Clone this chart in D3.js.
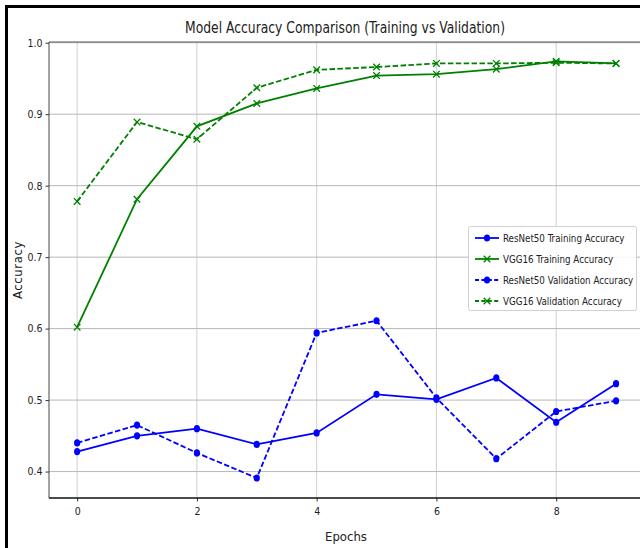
<!DOCTYPE html>
<html>
<head>
<meta charset="utf-8">
<script src="https://cdn.jsdelivr.net/npm/d3@7"></script>
<style>
    body {margin:0; background:#fff;}
    svg text {font-family:"DejaVu Sans Condensed","DejaVu Sans",sans-serif; fill:#222;}
</style>
</head>
<body>
<svg id="chart" width="640" height="548"></svg>
<script>
const epochs = [0, 1, 2, 3, 4, 5, 6, 7, 8, 9];
const resnetTrain = [0.428, 0.450, 0.460, 0.438, 0.454, 0.508, 0.501, 0.531, 0.469, 0.523];
const vggTrain = [0.602, 0.781, 0.883, 0.915, 0.936, 0.954, 0.956, 0.963, 0.974, 0.971];
const resnetVal = [0.440, 0.465, 0.426, 0.391, 0.594, 0.611, 0.503, 0.418, 0.484, 0.499];
const vggVal = [0.778, 0.889, 0.865, 0.937, 0.962, 0.966, 0.971, 0.971, 0.972, 0.971];
const xTicks = [0, 2, 4, 6, 8];
const yTicks = [0.4, 0.5, 0.6, 0.7, 0.8, 0.9, 1.0];

const series = [
    {name:"ResNet50 Training Accuracy", values:resnetTrain, color:"#0000ff", marker:"o", dash:null},
    {name:"VGG16 Training Accuracy", values:vggTrain, color:"#008000", marker:"x", dash:null},
    {name:"ResNet50 Validation Accuracy", values:resnetVal, color:"#0000ff", marker:"o", dash:"5.5,2.4"},
    {name:"VGG16 Validation Accuracy", values:vggVal, color:"#008000", marker:"x", dash:"5.5,2.4"}
];

const svg = d3.select("#chart");
const pLeft = 49, pRight = 643, pTop = 42, pBottom = 498;

// outer frame (only left/top visible)
svg.append("rect")
    .attr("x", 6.5).attr("y", 6.5).attr("width", 700).attr("height", 600)
    .attr("fill", "none").attr("stroke", "#000").attr("stroke-width", 3);

const x = d3.scaleLinear().domain([-0.47, 9.45]).range([pLeft, pRight]);
const y = d3.scaleLinear().domain([0.363, 1.001]).range([pBottom, pTop]);

// grid
const grid = svg.append("g");
grid.selectAll(".gx").data(xTicks).join("line")
    .attr("x1", d => x(d)).attr("x2", d => x(d))
    .attr("y1", pTop).attr("y2", pBottom)
    .attr("stroke", "#cfcfcf").attr("stroke-width", 1);
grid.selectAll(".gy").data(yTicks).join("line")
    .attr("x1", pLeft).attr("x2", pRight)
    .attr("y1", d => y(d)).attr("y2", d => y(d))
    .attr("stroke", "#b8b8b8").attr("stroke-width", 1);

// axes
const xAxis = svg.append("g")
    .attr("transform", `translate(0,${pBottom})`)
    .call(d3.axisBottom(x).tickValues(xTicks).tickSize(3.5).tickPadding(6).tickFormat(d3.format("d")));
const yAxis = svg.append("g")
    .attr("transform", `translate(${pLeft},0)`)
    .call(d3.axisLeft(y).tickValues(yTicks).tickSize(3.5).tickPadding(3).tickFormat(d3.format(".1f")));
[xAxis, yAxis].forEach(a => {
    a.select(".domain").remove();
    a.selectAll("text").attr("font-size", 10.5).attr("fill", "#333")
        .style("font-family", '"DejaVu Sans Condensed","DejaVu Sans",sans-serif');
    a.selectAll(".tick line").attr("stroke", "#333");
});

// spines
svg.append("line").attr("x1", pLeft).attr("x2", pLeft).attr("y1", pTop).attr("y2", pBottom)
    .attr("stroke", "#444").attr("stroke-width", 1);
svg.append("line").attr("x1", pLeft).attr("x2", pRight).attr("y1", pTop).attr("y2", pTop)
    .attr("stroke", "#555").attr("stroke-width", 1.2);
svg.append("line").attr("x1", pLeft).attr("x2", pRight).attr("y1", pBottom).attr("y2", pBottom)
    .attr("stroke", "#111").attr("stroke-width", 1.5);

const line = d3.line().x((d, i) => x(epochs[i])).y(d => y(d));

const drawMarker = (g, kind, cx, cy, color) => {
    if (kind === "o") {
        g.append("ellipse").attr("cx", cx).attr("cy", cy).attr("rx", 3.1).attr("ry", 3.6).attr("fill", color);
    } else {
        const s = 3.3;
        g.append("path")
            .attr("d", `M${cx - s},${cy - s}L${cx + s},${cy + s}M${cx - s},${cy + s}L${cx + s},${cy - s}`)
            .attr("stroke", color).attr("stroke-width", 1.3).attr("fill", "none");
    }
};

series.forEach(s => {
    const g = svg.append("g");
    g.append("path")
        .attr("d", line(s.values))
        .attr("fill", "none")
        .attr("stroke", s.color)
        .attr("stroke-width", 1.8)
        .attr("stroke-dasharray", s.dash);
    s.values.forEach((v, i) => drawMarker(g, s.marker, x(epochs[i]), y(v), s.color));
});

// title & labels
svg.append("text").attr("x", 345).attr("y", 33).attr("text-anchor", "middle")
    .attr("font-size", 15).attr("textLength", 320).attr("lengthAdjust", "spacingAndGlyphs")
    .text("Model Accuracy Comparison (Training vs Validation)");
svg.append("text").attr("x", 346).attr("y", 541).attr("text-anchor", "middle")
    .attr("font-size", 13).text("Epochs");
svg.append("text").attr("transform", "translate(22,270) rotate(-90)").attr("text-anchor", "middle")
    .attr("font-size", 13).attr("letter-spacing", 0.6).text("Accuracy");

// legend
const lg = svg.append("g").attr("transform", "translate(468,226)");
lg.append("rect").attr("x", 0.5).attr("y", 0.5).attr("width", 168).attr("height", 84).attr("rx", 2)
    .attr("fill", "#fff").attr("fill-opacity", 0.85).attr("stroke", "#d0d0d0");
series.forEach((s, i) => {
    const yy = 12 + i * 21;
    lg.append("line").attr("x1", 7).attr("x2", 31).attr("y1", yy).attr("y2", yy)
        .attr("stroke", s.color).attr("stroke-width", 1.8).attr("stroke-dasharray", s.dash ? "4,2.4" : null);
    drawMarker(lg, s.marker, 19, yy, s.color);
    lg.append("text").attr("x", 35).attr("y", yy + 3.5).attr("font-size", 9.7).text(s.name);
});
</script>
</body>
</html>
